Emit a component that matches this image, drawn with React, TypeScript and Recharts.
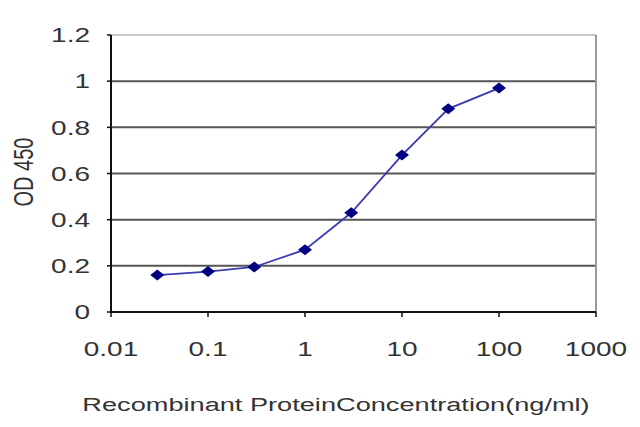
import React from "react";
import {
  LineChart,
  Line,
  XAxis,
  YAxis,
  ReferenceLine,
  Label,
} from "recharts";

const CONCENTRATION = [0.03, 0.1, 0.3, 1, 3, 10, 30, 100];
const OD_450 = [0.16, 0.175, 0.195, 0.27, 0.43, 0.68, 0.88, 0.97];

const X_TICKS = [0.01, 0.1, 1, 10, 100, 1000];
const Y_TICKS = [0, 0.2, 0.4, 0.6, 0.8, 1, 1.2];
const GRID_VALUES = [0.2, 0.4, 0.6, 0.8, 1];

const X_TITLE = "Recombinant ProteinConcentration(ng/ml)";
const Y_TITLE = "OD 450";

const data = CONCENTRATION.map((c, i) => ({ conc: c, od: OD_450[i] }));

const FONT = "'Liberation Sans', Arial, sans-serif";
const INK = "#333";
// the reference looks stretched sideways, so glyphs get widened
const STRETCH = 1.4;

function XTick({ x, y, payload }: any) {
  return (
    <g transform={`translate(${x},${y + 37}) scale(${STRETCH},1)`}>
      <text textAnchor="middle" fontFamily={FONT} fontSize={20} fill={INK}>
        {String(payload.value)}
      </text>
    </g>
  );
}

function YTick({ x, y, payload }: any) {
  return (
    <g transform={`translate(${x - 15},${y}) scale(${STRETCH},1)`}>
      <text textAnchor="end" dy="0.36em" fontFamily={FONT} fontSize={20} fill={INK}>
        {String(payload.value)}
      </text>
    </g>
  );
}

function Diamond({ cx, cy }: any) {
  if (cx == null || cy == null) return null;
  return (
    <polygon
      points={`${cx},${cy - 5.5} ${cx + 7},${cy} ${cx},${cy + 5.5} ${cx - 7},${cy}`}
      fill="#000080"
    />
  );
}

export default function App() {
  return (
    <div style={{ position: "absolute", left: 0, top: 0, width: 640, height: 427, background: "#fff" }}>
      <LineChart
        width={640}
        height={427}
        data={data}
        margin={{ top: 35, right: 44, left: 51, bottom: 55 }}
      >
        {GRID_VALUES.map((v) => (
          <ReferenceLine key={v} y={v} stroke="#555" strokeWidth={2} />
        ))}
        <ReferenceLine y={1.2} stroke="#c8c8c8" strokeWidth={2} />
        <ReferenceLine x={1000} stroke="#9a9a9a" strokeWidth={2} />
        <XAxis
          dataKey="conc"
          type="number"
          scale="log"
          domain={[0.01, 1000]}
          ticks={X_TICKS}
          allowDataOverflow
          height={60}
          axisLine={{ stroke: "#111", strokeWidth: 2 }}
          tickLine={{ stroke: "#111", strokeWidth: 1.5 }}
          tickSize={5}
          tick={<XTick />}
        >
          <Label
            content={() => (
              <g transform={`translate(336,411) scale(1.43,1)`}>
                <text textAnchor="middle" fontFamily={FONT} fontSize={19} fill={INK}>
                  {X_TITLE}
                </text>
              </g>
            )}
          />
        </XAxis>
        <YAxis
          type="number"
          domain={[0, 1.2]}
          ticks={Y_TICKS}
          width={60}
          axisLine={{ stroke: "#111", strokeWidth: 2 }}
          tickLine={{ stroke: "#111", strokeWidth: 1.5 }}
          tickSize={4}
          tick={<YTick />}
        >
          <Label
            content={() => (
              <g transform={`translate(23,172) scale(${STRETCH},1) rotate(-90)`}>
                <text textAnchor="middle" dy="0.36em" fontFamily={FONT} fontSize={20} fill={INK}>
                  {Y_TITLE}
                </text>
              </g>
            )}
          />
        </YAxis>
        <Line
          dataKey="od"
          stroke="#3c3cb0"
          strokeWidth={1.8}
          dot={<Diamond />}
          activeDot={false}
          isAnimationActive={false}
        />
      </LineChart>
    </div>
  );
}
